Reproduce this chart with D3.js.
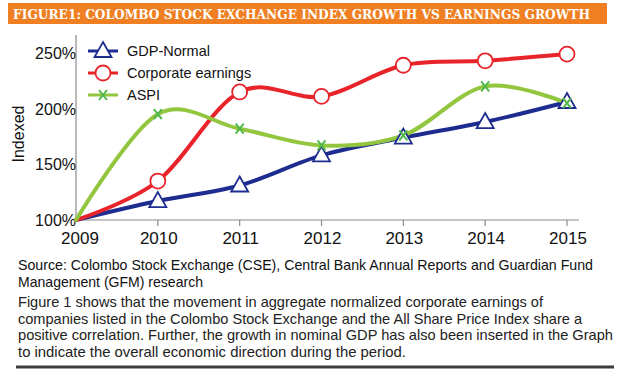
<!DOCTYPE html>
<html lang="en">
<head>
    <meta charset="UTF-8">
    <title>Colombo Stock Exchange Index Growth vs Earnings Growth</title>
    <script src="https://d3js.org/d3.v7.min.js"></script>
    <style>
        body, html {
            margin: 0;
            padding: 0;
            background: #fff;
        }
        svg text {
            font-family: "Liberation Sans", Arial, sans-serif;
        }
    </style>
</head>
<body>
<div id="chart"></div>
<script>
    // values (index, 2009 = 100%)
    const years = ["2009", "2010", "2011", "2012", "2013", "2014", "2015"];
    const gdpNormal = [100, 117, 131, 158, 174, 188, 206];
    const corporateEarnings = [100, 135, 215, 211, 239, 243, 249];
    const aspi = [100, 195, 182, 167, 176, 220, 205];
    const yTicks = [100, 150, 200, 250];

    const titleText = "FIGURE1: COLOMBO STOCK EXCHANGE INDEX GROWTH VS EARNINGS GROWTH";
    const sourceLines = [
        "Source: Colombo Stock Exchange (CSE), Central Bank Annual Reports and Guardian Fund",
        "Management (GFM) research"
    ];
    const noteLines = [
        "Figure 1 shows that the movement in aggregate normalized corporate earnings of",
        "companies listed in the Colombo Stock Exchange and the All Share Price Index share a",
        "positive correlation. Further, the growth in nominal GDP has also been inserted in the Graph",
        "to indicate the overall economic direction during the period."
    ];

    const series = [
        { name: "GDP-Normal", values: gdpNormal, color: "#1d2c8f", marker: "triangle" },
        { name: "Corporate earnings", values: corporateEarnings, color: "#e8232a", marker: "circle" },
        { name: "ASPI", values: aspi, color: "#93c63f", marker: "cross" }
    ];

    const width = 620, height = 386;

    const svg = d3.select("#chart")
        .append("svg")
        .attr("width", width)
        .attr("height", height);

    // title bar
    svg.append("rect")
        .attr("x", 8).attr("y", 3)
        .attr("width", 599).attr("height", 21)
        .attr("fill", "#ef7f22");
    svg.append("text")
        .attr("x", 13).attr("y", 19)
        .attr("textLength", 577)
        .attr("lengthAdjust", "spacingAndGlyphs")
        .style("font-family", "'DejaVu Serif', serif")
        .style("font-weight", "bold")
        .style("font-size", "12.5px")
        .attr("fill", "#fff")
        .text(titleText);

    const x = d3.scalePoint().domain(years).range([76, 567]);
    const y = d3.scaleLinear().domain([100, 250]).range([220, 53]);

    // axes
    svg.append("line")
        .attr("x1", 76).attr("x2", 76)
        .attr("y1", 35).attr("y2", y(100))
        .attr("stroke", "#8a8a8a").attr("stroke-width", 1.2);
    svg.append("line")
        .attr("x1", 76).attr("x2", 579)
        .attr("y1", y(100)).attr("y2", y(100))
        .attr("stroke", "#8a8a8a").attr("stroke-width", 1.2);

    svg.append("g").selectAll("line")
        .data(years.slice(1))
        .enter().append("line")
        .attr("x1", d => x(d)).attr("x2", d => x(d))
        .attr("y1", y(100)).attr("y2", y(100) + 6)
        .attr("stroke", "#8a8a8a").attr("stroke-width", 1.2);

    svg.append("g").selectAll("text")
        .data(years)
        .enter().append("text")
        .attr("x", (d, i) => x(d) + (i === 0 ? 4 : 1))
        .attr("y", 244)
        .attr("text-anchor", "middle")
        .style("font-size", "17px")
        .attr("fill", "#111")
        .text(d => d);

    svg.append("g").selectAll("text")
        .data(yTicks)
        .enter().append("text")
        .attr("x", 76)
        .attr("y", d => y(d) + 6)
        .attr("text-anchor", "end")
        .style("font-size", "16px")
        .attr("fill", "#111")
        .text(d => d + "%");

    svg.append("text")
        .attr("transform", "translate(24,134) rotate(-90)")
        .attr("text-anchor", "middle")
        .style("font-size", "16px")
        .attr("fill", "#111")
        .text("Indexed");

    const line = d3.line()
        .x((d, i) => x(years[i]))
        .y(d => y(d))
        .curve(d3.curveCardinal.tension(0));

    function drawMarker(g, type, color, cx, cy) {
        if (type === "triangle") {
            g.append("path")
                .attr("d", `M${cx},${cy - 9}L${cx + 8.5},${cy + 6}L${cx - 8.5},${cy + 6}Z`)
                .attr("fill", "#fff").attr("stroke", color).attr("stroke-width", 1.8);
        } else if (type === "circle") {
            g.append("circle")
                .attr("cx", cx).attr("cy", cy).attr("r", 7.5)
                .attr("fill", "#fff").attr("stroke", color).attr("stroke-width", 1.8);
        } else {
            g.append("path")
                .attr("d", `M${cx - 4},${cy - 5}L${cx + 4},${cy + 5}M${cx + 4},${cy - 5}L${cx - 4},${cy + 5}`)
                .attr("fill", "none").attr("stroke", "#4fb848").attr("stroke-width", 2);
        }
    }

    series.forEach(s => {
        svg.append("path")
            .datum(s.values)
            .attr("d", line)
            .attr("fill", "none")
            .attr("stroke", s.color)
            .attr("stroke-width", 4)
            .attr("stroke-linecap", "round");
    });

    series.forEach(s => {
        const g = svg.append("g");
        s.values.forEach((v, i) => {
            if (i === 0) return;
            drawMarker(g, s.marker, s.color, x(years[i]), y(v));
        });
    });

    // legend
    const legend = svg.append("g");
    series.forEach((s, i) => {
        const ly = 51 + i * 22;
        legend.append("line")
            .attr("x1", 88).attr("x2", 118)
            .attr("y1", ly).attr("y2", ly)
            .attr("stroke", s.color).attr("stroke-width", 3);
        drawMarker(legend, s.marker, s.color, 103, ly);
        legend.append("text")
            .attr("x", 127).attr("y", ly + 5)
            .style("font-size", "14.5px")
            .attr("fill", "#111")
            .text(s.name);
    });

    // source and note text
    const sourceWidths = [575, 185];
    svg.append("g").selectAll("text")
        .data(sourceLines)
        .enter().append("text")
        .attr("x", 18)
        .attr("y", (d, i) => 270 + i * 17)
        .attr("textLength", (d, i) => sourceWidths[i])
        .attr("lengthAdjust", "spacingAndGlyphs")
        .style("font-size", "14.5px")
        .attr("fill", "#111")
        .text(d => d);

    const noteWidths = [525, 564, 595, 388];
    svg.append("g").selectAll("text")
        .data(noteLines)
        .enter().append("text")
        .attr("x", 18)
        .attr("y", (d, i) => 307 + i * 16.5)
        .attr("textLength", (d, i) => noteWidths[i])
        .attr("lengthAdjust", "spacingAndGlyphs")
        .style("font-size", "14.5px")
        .attr("fill", "#222")
        .text(d => d);

    svg.append("line")
        .attr("x1", 16).attr("x2", 614)
        .attr("y1", 367).attr("y2", 367)
        .attr("stroke", "#3c3c3c").attr("stroke-width", 3);
</script>
</body>
</html>
